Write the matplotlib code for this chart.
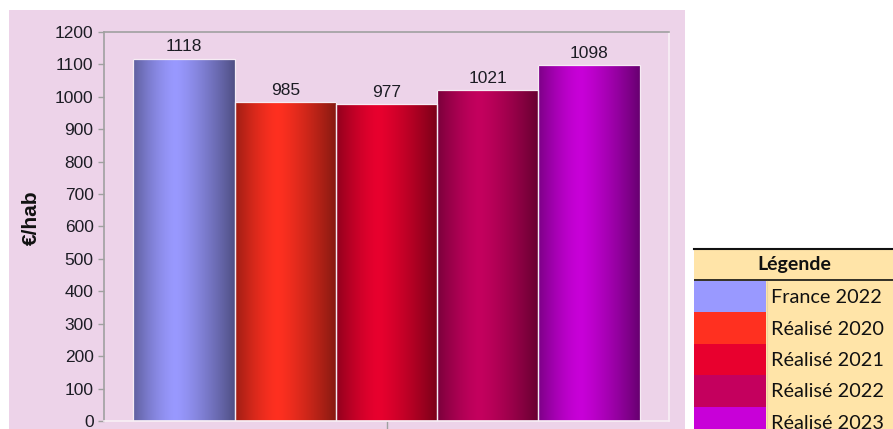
import numpy as np
import matplotlib.pyplot as plt
from matplotlib.patches import Rectangle
from matplotlib.colors import to_rgb

# data
series = ['France 2022', 'Réalisé 2020', 'Réalisé 2021', 'Réalisé 2022', 'Réalisé 2023']
values = [1118, 985, 977, 1021, 1098]
colors = ['#9999FF', '#FF3020', '#E8002E', '#C4005E', '#C800D8']
yticks = [0, 100, 200, 300, 400, 500, 600, 700, 800, 900, 1000, 1100, 1200]

W, H = 893, 429
pink = '#EDD3E9'
txt = '#1c1c24'

fig = plt.figure(figsize=(W / 100, H / 100), dpi=100, facecolor='white')

# pink chart area
fig.patches.append(Rectangle((9 / W, 0), (685 - 9) / W, (H - 10) / H,
                             transform=fig.transFigure, facecolor=pink,
                             edgecolor='none', zorder=-5))

ax = fig.add_axes([104 / W, (H - 421) / H, (669 - 104) / W, (421 - 32) / H])
ax.set_facecolor(pink)

x = np.arange(len(values))
bars = ax.bar(x, values, width=1.0, edgecolor='#f6ecf4', linewidth=0.9, zorder=2)


def shade(t):
    # cylinder-like shading, highlight a bit left of centre
    c = 0.42
    b = np.where(t < c, 1 - 0.38 * ((c - t) / c) ** 1.5,
                 1 - 0.48 * ((t - c) / (1 - c)) ** 1.3)
    return b


t = np.linspace(0, 1, 200)
for patch, col in zip(bars, colors):
    base = np.array(to_rgb(col))
    grad = np.clip(shade(t)[:, None] * base[None, :], 0, 1)[None, :, :]
    bx, bw, bh = patch.get_x(), patch.get_width(), patch.get_height()
    im = ax.imshow(grad, extent=[bx, bx + bw, 0, bh], aspect='auto',
                   interpolation='bilinear', zorder=1)
    im.set_clip_path(patch)
    patch.set_facecolor('none')

ax.bar_label(bars, labels=[str(v) for v in values], padding=3,
             fontsize=12.5, color=txt, family='Liberation Sans')

ax.set_xlim(-0.79, 4.79)
ax.set_ylim(0, 1200)
ax.set_yticks(yticks)
ax.set_yticklabels([str(v) for v in yticks], fontsize=12.5, color=txt,
                   family='Liberation Sans')
ax.set_xticks([2])
ax.set_xticklabels([''])
ax.tick_params(axis='y', length=4.5, width=1, color='#a0a0a0', pad=3)
ax.tick_params(axis='x', length=10, width=1, color='#a0a0a0')

for side in ['left', 'top']:
    ax.spines[side].set_color('#a0a0a0')
    ax.spines[side].set_linewidth(1.2)
for side in ['right', 'bottom']:
    ax.spines[side].set_color('#f8f0f6')
    ax.spines[side].set_linewidth(1.2)

fig.text(31 / W, 1 - 218 / H, '€/hab', rotation=90, ha='center', va='center',
         fontsize=15, fontweight='bold', color='#111111', family='Liberation Sans')

# legend table
lx0, ly0 = 694, 248
lax = fig.add_axes([lx0 / W, 0, (W - lx0) / W, (H - ly0) / H])
lax.set_xlim(0, W - lx0)
lax.set_ylim(H - ly0, 0)
lax.axis('off')
bg = '#FFE4A8'
lax.add_patch(Rectangle((0, 0), 202, 200, facecolor=bg, edgecolor='none'))
head_h = 31
row_h = 31.4
lax.text(100, head_h / 2 + 1, 'Légende', ha='center', va='center',
         fontsize=14, fontweight='bold', color='#111111', family='Lato')
for i, (lab, col) in enumerate(zip(series, colors)):
    y0 = head_h + 2 + i * row_h
    lax.add_patch(Rectangle((0, y0), 72, row_h, facecolor=col, edgecolor='none'))
    lax.text(77, y0 + row_h / 2 + 1, lab, ha='left', va='center',
             fontsize=14.3, color='#111111', family='Lato')
lax.plot([0, 202], [0.8, 0.8], color='#111111', lw=1.5, clip_on=False)
lax.plot([0, 202], [head_h + 0.5, head_h + 0.5], color='#111111', lw=1.2)
lax.plot([72.5, 72.5], [head_h + 2, 200], color='#e8d4a0', lw=0.8)

fig.savefig('out.png', dpi=100, facecolor='white')
